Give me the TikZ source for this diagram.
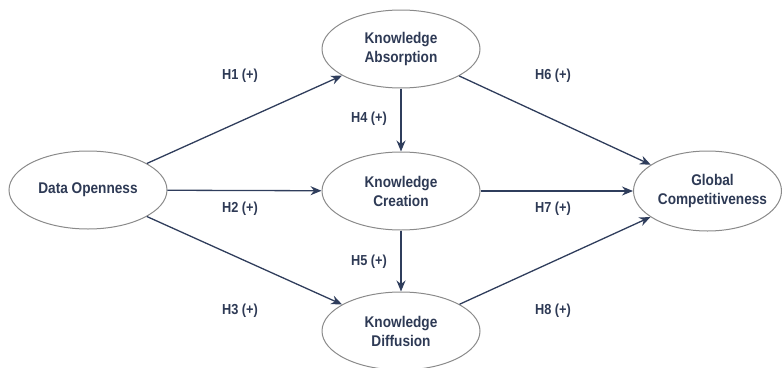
\documentclass[tikz,border=0pt]{standalone}
\usepackage{fontspec}
\setmainfont{Liberation Sans}[FakeStretch=0.88]
\usetikzlibrary{shapes.geometric,arrows.meta}
\definecolor{txt}{HTML}{2E3A55}
\definecolor{ln}{HTML}{2F3D5C}
\definecolor{bd}{HTML}{8A8A8A}
\tikzset{
  cfont/.style={align=center,font=\bfseries\fontsize{15.5}{19}\selectfont,text=txt},
  construct/.style={ellipse,draw=bd,line width=1pt,fill=white,minimum width=158pt,minimum height=78pt,inner sep=0pt,cfont},
  path/.style={draw=ln,line width=1.3pt,-{Stealth[length=11pt,width=9pt]}},
  hyp/.style={font=\bfseries\fontsize{14.5}{17}\selectfont,text=txt}
}
\begin{document}
\begin{tikzpicture}[x=1pt,y=-1pt]
\useasboundingbox (0,0) rectangle (782,367);
\node[construct] (DO) at (88,190) {Data Openness};
\node[construct] (KA) at (401,49) {Knowledge\\Absorption};
\node[construct] (KC) at (401,191) {Knowledge\\Creation};
\node[construct] (KD) at (401,331) {Knowledge\\Diffusion};
\node[construct,minimum width=148pt,minimum height=80pt,
  label={[cfont,xshift=5pt]center:Global\\Competitiveness}] (GC) at (707.5,191) {};
\draw[path] (DO) -- (KA);
\draw[path] (DO) -- (KC);
\draw[path] (DO) -- (KD);
\draw[path] (KA) -- (KC);
\draw[path] (KC) -- (KD);
\draw[path] (KA) -- (GC);
\draw[path] (KC) -- (GC);
\draw[path] (KD) -- (GC);
\node[hyp] (h1) at (240,76) {H1 (+)};
\node[hyp] (h2) at (240,209) {H2 (+)};
\node[hyp] (h3) at (240,311) {H3 (+)};
\node[hyp] (h4) at (369,119) {H4 (+)};
\node[hyp] (h5) at (369,262) {H5 (+)};
\node[hyp] (h6) at (553,76) {H6 (+)};
\node[hyp] (h7) at (553,209) {H7 (+)};
\node[hyp] (h8) at (553,311) {H8 (+)};
\end{tikzpicture}
\end{document}
